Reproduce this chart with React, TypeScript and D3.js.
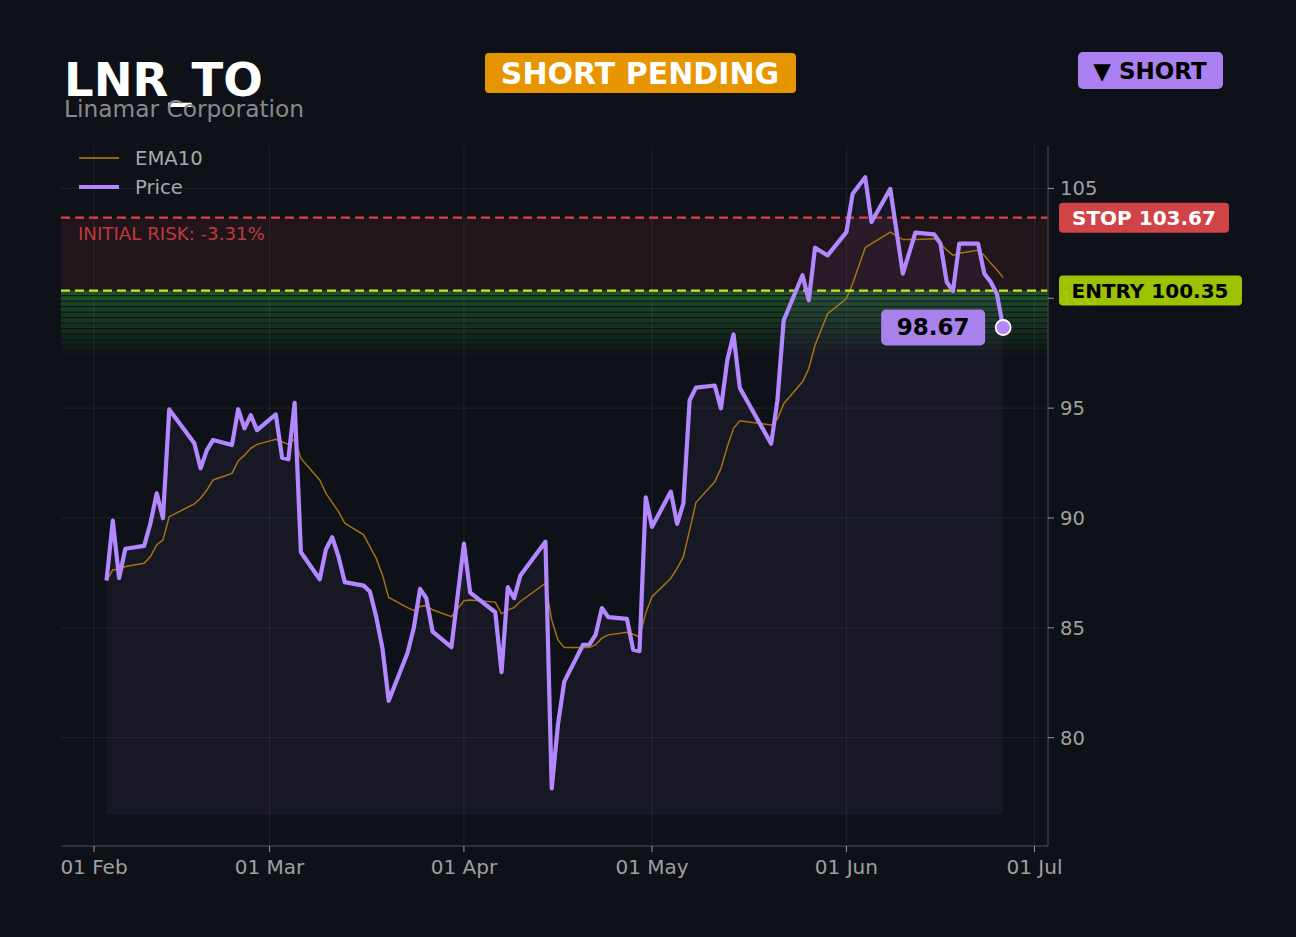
// LNR_TO short setup chart - price vs EMA10 with stop / entry zones

import * as d3 from "d3";

const W = 1296;
const H = 937;

// trading sessions
const DATES = [
  "2025-02-04", "2025-02-05", "2025-02-06", "2025-02-07",
  "2025-02-10", "2025-02-11", "2025-02-12", "2025-02-13", "2025-02-14",
  "2025-02-18", "2025-02-19", "2025-02-20", "2025-02-21",
  "2025-02-24", "2025-02-25", "2025-02-26", "2025-02-27", "2025-02-28",
  "2025-03-03", "2025-03-04", "2025-03-05", "2025-03-06", "2025-03-07",
  "2025-03-10", "2025-03-11", "2025-03-12", "2025-03-13", "2025-03-14",
  "2025-03-17", "2025-03-18", "2025-03-19", "2025-03-20", "2025-03-21",
  "2025-03-24", "2025-03-25", "2025-03-26", "2025-03-27", "2025-03-28",
  "2025-03-31", "2025-04-02", "2025-04-03",
  "2025-04-07", "2025-04-08", "2025-04-09", "2025-04-10", "2025-04-11",
  "2025-04-15", "2025-04-16", "2025-04-17", "2025-04-18",
  "2025-04-21", "2025-04-22", "2025-04-23", "2025-04-24", "2025-04-25",
  "2025-04-28", "2025-04-29", "2025-04-30", "2025-05-01", "2025-05-02",
  "2025-05-05", "2025-05-06", "2025-05-07", "2025-05-08", "2025-05-09",
  "2025-05-12", "2025-05-13", "2025-05-14", "2025-05-15", "2025-05-16",
  "2025-05-21", "2025-05-22", "2025-05-23",
  "2025-05-26", "2025-05-27", "2025-05-28", "2025-05-30",
  "2025-06-02", "2025-06-03", "2025-06-05", "2025-06-06",
  "2025-06-09", "2025-06-11", "2025-06-13",
  "2025-06-16", "2025-06-17", "2025-06-18", "2025-06-19", "2025-06-20",
  "2025-06-23", "2025-06-24", "2025-06-25", "2025-06-26", "2025-06-27",
];

const PRICE = [
  87.15, 89.88, 87.27, 88.6,
  88.73, 89.76, 91.12, 89.99, 94.94,
  93.4, 92.26, 93.09, 93.55,
  93.32, 94.95, 94.08, 94.68, 94.0,
  94.71, 92.74, 92.67, 95.24, 88.44,
  87.21, 88.58, 89.12, 88.24, 87.08,
  86.92, 86.65, 85.51, 84.08, 81.68,
  83.85, 84.99, 86.77, 86.35, 84.83,
  84.12, 88.83, 86.6,
  85.71, 82.98, 86.85, 86.35, 87.38,
  88.92, 77.69, 80.6, 82.55,
  84.23, 84.23, 84.68, 85.9, 85.49,
  85.41, 84.0, 83.94, 90.94, 89.6,
  91.2, 89.73, 90.67, 95.36, 95.93,
  96.03, 94.99, 97.18, 98.35, 95.92,
  93.38, 95.36, 99.0,
  101.05, 99.91, 102.3, 101.95,
  103.01, 104.76, 105.51, 103.47,
  104.98, 101.12, 102.99,
  102.91, 102.49, 100.74, 100.33, 102.49,
  102.49, 101.12, 100.75, 100.2, 98.67,
];

const EMA10 = [
  87.15, 87.64, 87.67, 87.79,
  87.94, 88.24, 88.77, 89.0, 90.06,
  90.64, 90.9, 91.27, 91.73,
  92.03, 92.6, 92.86, 93.17, 93.35,
  93.58, 93.47, 93.35, 93.6, 92.71,
  91.73, 91.12, 90.7, 90.29, 89.76,
  89.23, 88.7, 88.17, 87.41, 86.38,
  85.92, 85.79, 85.97, 86.01, 85.82,
  85.51, 86.23, 86.27,
  86.17, 85.64, 85.82, 85.92, 86.2,
  87.03, 85.36, 84.45, 84.1,
  84.1, 84.1, 84.23, 84.53, 84.68,
  84.8, 84.71, 84.58, 85.67, 86.42,
  87.26, 87.71, 88.24, 89.45, 90.7,
  91.65, 92.26, 93.24, 94.08, 94.42,
  94.23, 94.5, 95.2,
  96.2, 96.8, 97.86, 99.3,
  99.99, 100.67, 102.3, 102.49,
  103.01, 102.67, 102.68,
  102.71, 102.49, 102.2, 101.95, 102.05,
  102.18, 101.95, 101.6, 101.3, 100.94,
];

const Y_TICKS = [80, 85, 90, 95, 100, 105];
const X_TICKS = ["2025-02-01", "2025-03-01", "2025-04-01", "2025-05-01", "2025-06-01", "2025-07-01"];

const STOP = 103.67;
const ENTRY = 100.35;
const RISK_PCT = -3.31;
const FILL_BASE = 76.5;

const FONT = "DejaVu Sans";
const BG = "#0e1117";
const PURPLE = "#b388ff";
const EMA_COLOR = "#c88a10";

const parse = (s: string) => new Date(s + "T00:00:00Z");

export default function App() {
  const left = 61, right = 1048, top = 146, bottom = 846;

  const x = d3
    .scaleUtc()
    .domain([new Date(Date.UTC(2025, 0, 26, 17, 40)), new Date(Date.UTC(2025, 6, 3, 3, 40))])
    .range([left, right]);
  const y = d3.scaleLinear().domain([75.07, 106.93]).range([bottom, top]);

  // sessions sit one day left of the calendar ticks in the source chart
  const px = (s: string) => x(d3.utcDay.offset(parse(s), -1));

  const pts = DATES.map((d, i) => ({ d, p: PRICE[i], e: EMA10[i] }));

  const priceLine = d3
    .line<{ d: string; p: number }>()
    .x((v) => px(v.d))
    .y((v) => y(v.p));
  const emaLine = d3
    .line<{ d: string; e: number }>()
    .x((v) => px(v.d))
    .y((v) => y(v.e));
  const area = d3
    .area<{ d: string; p: number }>()
    .x((v) => px(v.d))
    .y0(y(FILL_BASE))
    .y1((v) => y(v.p));

  // green fading bands under the entry
  const bandCount = 12;
  const bandStep = (ENTRY * 0.03) / bandCount;
  const bands = d3.range(bandCount).map((i) => ({
    y0: y(ENTRY - i * bandStep),
    y1: y(ENTRY - (i + 1) * bandStep),
    a: 0.36 * (1 - i / bandCount),
  }));

  const last = pts[pts.length - 1];
  const lastX = px(last.d);
  const lastY = y(last.p);

  const fmt = d3.utcFormat("%d %b");

  return (
    <svg
      width={W}
      height={H}
      style={{ position: "fixed", left: 0, top: 0, background: BG }}
      fontFamily={FONT}
    >
      <rect width={W} height={H} fill={BG} />

      {/* grid */}
      {X_TICKS.map((t) => (
        <line key={t} x1={x(parse(t))} x2={x(parse(t))} y1={top} y2={bottom} stroke="#1f232a" strokeWidth={1} />
      ))}
      {Y_TICKS.map((t) => (
        <line key={t} x1={left} x2={right} y1={y(t)} y2={y(t)} stroke="#1f232a" strokeWidth={1} />
      ))}

      {/* risk zone */}
      <rect x={left} width={right - left} y={y(STOP)} height={y(ENTRY) - y(STOP)} fill="rgba(224,64,72,0.09)" />
      {bands.map((b, i) => (
        <rect
          key={i}
          x={left}
          width={right - left}
          y={b.y0}
          height={b.y1 - b.y0 - 1}
          fill={`rgba(52,190,64,${b.a})`}
        />
      ))}

      {/* price fill */}
      <path d={area(pts) || ""} fill="rgba(179,136,255,0.06)" />

      {/* EMA & price */}
      <path d={emaLine(pts) || ""} fill="none" stroke={EMA_COLOR} strokeOpacity={0.8} strokeWidth={1.5} />

      <line x1={left} x2={right} y1={y(STOP)} y2={y(STOP)} stroke="#e04048" strokeWidth={2.2} strokeDasharray="9 5" />
      <line x1={left} x2={right} y1={y(ENTRY)} y2={y(ENTRY)} stroke="#c6e61e" strokeWidth={2.2} strokeDasharray="9 5" />

      <path d={priceLine(pts) || ""} fill="none" stroke={PURPLE} strokeWidth={4.2} strokeLinejoin="round" />

      <text x={78} y={240} fill="#c0393b" fontSize={18.2}>
        {`INITIAL RISK: ${RISK_PCT.toFixed(2)}%`}
      </text>

      {/* legend */}
      <line x1={79} x2={119} y1={158} y2={158} stroke={EMA_COLOR} strokeOpacity={0.7} strokeWidth={2} />
      <text x={135} y={165} fill="#a8a8a8" fontSize={19.6}>EMA10</text>
      <line x1={79} x2={119} y1={187} y2={187} stroke={PURPLE} strokeWidth={4} />
      <text x={135} y={194} fill="#a8a8a8" fontSize={19.6}>Price</text>

      {/* axes */}
      <line x1={left} x2={right} y1={bottom} y2={bottom} stroke="#3a3d44" strokeWidth={1.5} />
      <line x1={right} x2={right} y1={top} y2={bottom} stroke="#3a3d44" strokeWidth={1.5} />
      {X_TICKS.map((t) => (
        <g key={t} transform={`translate(${x(parse(t))},${bottom})`}>
          <line y1={0} y2={6} stroke="#9a9a9a" />
          <text y={28} textAnchor="middle" fill="#a0a0a0" fontSize={20}>
            {fmt(parse(t))}
          </text>
        </g>
      ))}
      {Y_TICKS.map((t) => (
        <g key={t} transform={`translate(${right},${y(t)})`}>
          <line x1={0} x2={6} stroke="#9a9a9a" />
          <text x={12} dy="0.36em" fill="#a0a0a0" fontSize={19.6}>
            {t}
          </text>
        </g>
      ))}

      {/* last price marker */}
      <rect x={lastX - 122} y={lastY - 18} width={104} height={36} rx={5} fill="#a882ea" />
      <text x={lastX - 70} y={lastY + 8} textAnchor="middle" fill="#000" fontWeight="bold" fontSize={23}>
        {last.p.toFixed(2)}
      </text>
      <circle cx={lastX} cy={lastY} r={7.5} fill={PURPLE} stroke="#fff" strokeWidth={1.8} />

      {/* level tags */}
      <rect x={1059} y={y(STOP) - 15} width={170} height={30} rx={4} fill="#d04448" />
      <text x={1144} y={y(STOP) + 7} textAnchor="middle" fill="#fff" fontWeight="bold" fontSize={20}>
        {`STOP ${STOP.toFixed(2)}`}
      </text>
      <rect x={1059} y={y(ENTRY) - 15} width={183} height={30} rx={4} fill="#a8d000" fillOpacity={0.93} />
      <text x={1150} y={y(ENTRY) + 7} textAnchor="middle" fill="#000" fontWeight="bold" fontSize={20}>
        {`ENTRY ${ENTRY.toFixed(2)}`}
      </text>

      {/* header */}
      <text x={64} y={96} fill="#fff" fontWeight="bold" fontSize={46.5}>LNR_TO</text>
      <text x={64} y={117} fill="#8a8a8a" fontSize={23.3}>Linamar Corporation</text>

      <rect x={485} y={53} width={311} height={40} rx={4} fill="#e69500" />
      <text x={640} y={84} textAnchor="middle" fill="#fff" fontWeight="bold" fontSize={30}>SHORT PENDING</text>

      <rect x={1078} y={52} width={145} height={37} rx={5} fill="#ab80f0" />
      <text x={1150} y={79} textAnchor="middle" fill="#000" fontWeight="bold" fontSize={23}>▼ SHORT</text>
    </svg>
  );
}
